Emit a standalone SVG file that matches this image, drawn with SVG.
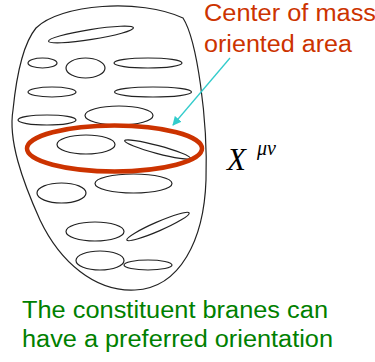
<svg xmlns="http://www.w3.org/2000/svg" width="375" height="362" viewBox="0 0 375 362">
<style>
.b{fill:none;stroke:#222;stroke-width:1.2}
.r{fill:none;stroke:#cc3300;stroke-width:4.5}
.lbl{font-family:"Liberation Sans",Arial,sans-serif;font-size:23px}
</style>
<defs>
<marker id="ah" viewBox="0 0 10 10" refX="9" refY="5" markerWidth="9" markerHeight="9" markerUnits="userSpaceOnUse" orient="auto">
<path d="M0,0 L10,5 L0,10 Z" fill="#33cccc"/>
</marker>
</defs>
<g id="body">
<path class="b" d="M36,28 C60,4 140,-2 183,18 C197,40 208,120 206,180 C204,240 180,288 135,290 C95,292 60,262 40,220 C22,180 8,140 13,110 C16,80 22,45 36,28 Z"/>
<ellipse class="b" cx="91" cy="34.5" rx="43" ry="5" transform="rotate(-9 91 34.5)"/>
<ellipse class="b" cx="42.5" cy="63" rx="14.5" ry="5"/>
<ellipse class="b" cx="85.5" cy="68" rx="19.5" ry="10"/>
<ellipse class="b" cx="148" cy="63" rx="34" ry="5"/>
<ellipse class="b" cx="52" cy="92" rx="24" ry="5"/>
<ellipse class="b" cx="153" cy="92" rx="38.5" ry="5"/>
<ellipse class="b" cx="47" cy="120" rx="29" ry="5"/>
<ellipse class="b" cx="119" cy="115.5" rx="34" ry="9.5"/>
<ellipse class="b" cx="86" cy="144.5" rx="29" ry="9.5"/>
<ellipse class="b" cx="157.5" cy="149.5" rx="34" ry="4" transform="rotate(15 157.5 149.5)"/>
<ellipse class="b" cx="61.5" cy="193" rx="24.5" ry="10"/>
<ellipse class="b" cx="133.5" cy="183.5" rx="38.5" ry="9.5"/>
<ellipse class="b" cx="95" cy="231.5" rx="29" ry="9.5"/>
<ellipse class="b" cx="158" cy="226.5" rx="34" ry="4.5" transform="rotate(-23.5 158 226.5)"/>
<ellipse class="b" cx="100" cy="260.5" rx="24" ry="9.5"/>
<ellipse class="b" cx="148" cy="265" rx="24" ry="5"/>
</g>
<g id="com-area">
<ellipse class="r" cx="114.5" cy="148.5" rx="87.5" ry="23"/>
</g>
<g id="connectors">
<line x1="230" y1="58" x2="173" y2="125" stroke="#33cccc" stroke-width="1.3" marker-end="url(#ah)"/>
</g>
<g id="label-com">
<text class="lbl" fill="#cc3300" x="204" y="21" textLength="172" lengthAdjust="spacingAndGlyphs">Center of mass</text>
<text class="lbl" fill="#cc3300" x="204" y="52" textLength="148" lengthAdjust="spacingAndGlyphs">oriented area</text>
</g>
<g id="label-x">
<text x="227" y="170" font-family="'Liberation Serif','Times New Roman',serif" font-style="italic" font-size="31">X</text>
<text x="257" y="155" font-family="'Liberation Serif','Times New Roman',serif" font-style="italic" font-size="20">μν</text>
</g>
<g id="caption">
<text class="lbl" fill="#008000" x="22" y="318" textLength="306" lengthAdjust="spacingAndGlyphs">The constituent branes can</text>
<text class="lbl" fill="#008000" x="22" y="347" textLength="311" lengthAdjust="spacingAndGlyphs">have a preferred orientation</text>
</g>
</svg>
